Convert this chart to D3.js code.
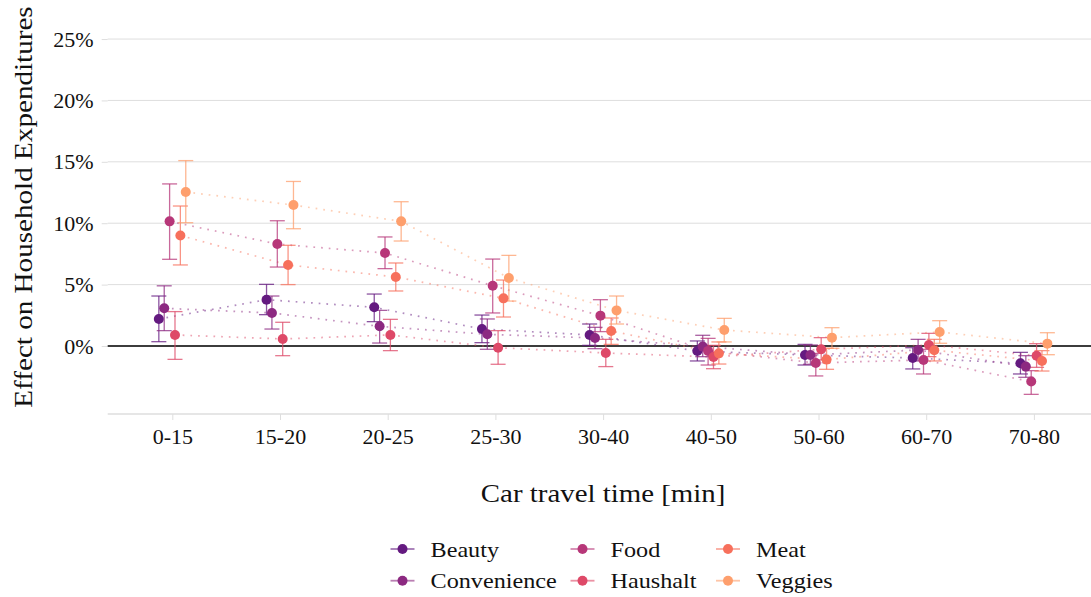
<!DOCTYPE html>
<html><head><meta charset="utf-8">
<script src="https://cdn.jsdelivr.net/npm/d3@7"></script>
<style>
html,body{margin:0;padding:0;background:#fff;}
svg{display:block;font-family:"Liberation Serif","Times New Roman",serif;}
svg text{font-family:"Liberation Serif","Times New Roman",serif;}
</style></head>
<body><svg id="chart" width="1091" height="597"></svg>
<script>
const categories = ["0-15","15-20","20-25","25-30","30-40","40-50","50-60","60-70","70-80"];
const seriesNames = ["Beauty","Convenience","Food","Haushalt","Meat","Veggies"];
const seriesColors = ["#641A80","#8C2981","#B73779","#DE4968","#F7705C","#FE9F6D"];
const yTicks = [0,5,10,15,20,25];

const beautyEst = [2.2, 3.77, 3.15, 1.38, 0.9, -0.41, -0.73, -0.98, -1.41];
const beautyLo  = [0.35, 2.55, 1.98, 0.27, 0.05, -1.22, -1.55, -1.87, -2.28];
const beautyHi  = [4.07, 5.02, 4.23, 2.52, 1.79, 0.41, 0.13, -0.14, -0.52];

const convEst = [3.07, 2.69, 1.6, 0.95, 0.65, -0.05, -0.73, -0.33, -1.68];
const convLo  = [1.25, 1.38, 0.24, -0.27, -0.22, -0.87, -1.49, -1.22, -2.55];
const convHi  = [4.9, 4.07, 2.9, 2.2, 1.52, 0.87, 0.08, 0.54, -0.79];

const foodEst = [10.15, 8.3, 7.57, 4.91, 2.47, -0.4, -1.38, -1.14, -2.9];
const foodLo  = [7.06, 6.43, 6.3, 2.69, 1.17, -1.55, -2.44, -2.28, -3.94];
const foodHi  = [13.2, 10.2, 8.88, 7.08, 3.77, 0.62, -0.6, -0.27, -2.01];

const hausEst = [0.9, 0.57, 0.9, -0.14, -0.57, -0.9, -0.27, 0.08, -0.79];
const hausLo  = [-1.09, -0.79, -0.38, -1.49, -1.68, -1.85, -1.14, -0.87, -1.74];
const hausHi  = [2.8, 1.93, 2.17, 1.25, 0.54, 0.05, 0.68, 1.03, 0.19];

const meatEst = [9.0, 6.6, 5.62, 3.88, 1.22, -0.6, -1.11, -0.35, -1.22];
const meatLo  = [6.6, 5.0, 4.48, 2.36, 0.13, -1.47, -1.9, -1.22, -2.04];
const meatHi  = [11.4, 8.2, 6.76, 5.37, 2.28, 0.33, -0.19, 0.54, -0.38];

const vegEst = [12.54, 11.48, 10.15, 5.54, 2.9, 1.3, 0.68, 1.14, 0.19];
const vegLo  = [10.04, 9.55, 8.55, 3.66, 1.79, 0.33, -0.19, 0.22, -0.71];
const vegHi  = [15.1, 13.4, 11.75, 7.38, 4.07, 2.25, 1.49, 2.06, 1.08];

const estimates = [beautyEst, convEst, foodEst, hausEst, meatEst, vegEst];
const lowers = [beautyLo, convLo, foodLo, hausLo, meatLo, vegLo];
const uppers = [beautyHi, convHi, foodHi, hausHi, meatHi, vegHi];

const series = seriesNames.map((name, i) => ({
  name, color: seriesColors[i],
  values: categories.map((c, j) => ({cat: c, est: estimates[i][j], lo: lowers[i][j], hi: uppers[i][j]}))
}));

const FONT = "Liberation Serif, Times New Roman, serif";
const svg = d3.select("#chart");
const panel = {left: 107.7, right: 1098.5, top: 0, bottom: 414};

const x = d3.scalePoint().domain(categories).range([172.3, 1033.9]);
const y = d3.scaleLinear().domain([-5.54, 28.18]).range([panel.bottom, panel.top]);
const dodgeStep = x.step() * 0.05;
const dx = i => (i - (seriesNames.length - 1) / 2) * dodgeStep;

const stretch = f => function() { const w = this.getComputedTextLength(); d3.select(this).attr("textLength", w * f).attr("lengthAdjust", "spacingAndGlyphs"); };

// grid
svg.append("g").selectAll("line").data(yTicks).join("line")
  .attr("x1", panel.left).attr("x2", 1091)
  .attr("y1", d => y(d)).attr("y2", d => y(d))
  .attr("stroke", "#dedede").attr("stroke-width", 1);

// y axis ticks and labels
const yAxis = svg.append("g").attr("transform", `translate(${panel.left},0)`)
  .call(d3.axisLeft(y).tickValues(yTicks).tickFormat(d => d + "%").tickSize(6).tickPadding(8))
  .attr("font-family", FONT);
yAxis.select(".domain").remove();
yAxis.selectAll(".tick line").attr("stroke", "#dedede");
yAxis.selectAll(".tick text").attr("font-size", 22).attr("fill", "#111");

// x axis
const xAxis = svg.append("g").attr("transform", `translate(0,${panel.bottom})`)
  .call(d3.axisBottom(x).tickSize(6).tickPadding(8))
  .attr("font-family", FONT);
xAxis.select(".domain").attr("d", `M${panel.left},0H1091`).attr("stroke", "#dedede").attr("stroke-width", 1.6);
xAxis.selectAll(".tick line").attr("stroke", "#dedede");
xAxis.selectAll(".tick text").attr("font-size", 22).attr("fill", "#111");

// zero line
svg.append("line").attr("x1", panel.left).attr("x2", 1091)
  .attr("y1", y(0)).attr("y2", y(0)).attr("stroke", "#000").attr("stroke-width", 1.4);

// dotted lines
const line = d3.line().x(d => d.x).y(d => d.y);
series.forEach((s, i) => {
  svg.append("path")
    .datum(s.values.map(v => ({x: x(v.cat) + dx(i), y: y(v.est)})))
    .attr("d", line).attr("fill", "none")
    .attr("stroke", s.color).attr("stroke-opacity", 0.5)
    .attr("stroke-width", 1.7).attr("stroke-dasharray", "1.7,6");
});

// error bars
const capHalf = 7.5;
series.forEach((s, i) => {
  const g = svg.append("g").attr("stroke", s.color).attr("stroke-opacity", 0.75).attr("stroke-width", 1.3);
  s.values.forEach(v => {
    const cx = x(v.cat) + dx(i);
    g.append("line").attr("x1", cx).attr("x2", cx).attr("y1", y(v.lo)).attr("y2", y(v.hi));
    g.append("line").attr("x1", cx - capHalf).attr("x2", cx + capHalf).attr("y1", y(v.lo)).attr("y2", y(v.lo));
    g.append("line").attr("x1", cx - capHalf).attr("x2", cx + capHalf).attr("y1", y(v.hi)).attr("y2", y(v.hi));
  });
});

// points
series.forEach((s, i) => {
  svg.append("g").selectAll("circle").data(s.values).join("circle")
    .attr("cx", v => x(v.cat) + dx(i)).attr("cy", v => y(v.est))
    .attr("r", 5).attr("fill", s.color);
});

// axis titles
svg.append("text").attr("x", (panel.left + panel.right) / 2).attr("y", 502)
  .attr("text-anchor", "middle").attr("font-size", 26).attr("fill", "#111")
  .text("Car travel time [min]").each(stretch(1.11));
svg.append("text").attr("transform", `translate(32,${(panel.top + panel.bottom) / 2}) rotate(-90)`)
  .attr("text-anchor", "middle").attr("font-size", 26).attr("fill", "#111")
  .text("Effect on Household Expenditures").each(stretch(1.12));

// legend (3 columns, 2 rows, filled by column)
const legCols = [402.5, 582.5, 728];
const legRows = [549, 580.7];
series.forEach((s, i) => {
  const col = Math.floor(i / 2), row = i % 2;
  const cx = legCols[col], cy = legRows[row];
  const g = svg.append("g");
  g.append("line").attr("x1", cx - 12).attr("x2", cx + 12).attr("y1", cy).attr("y2", cy)
    .attr("stroke", s.color).attr("stroke-opacity", 0.6).attr("stroke-width", 1.8);
  g.append("circle").attr("cx", cx).attr("cy", cy).attr("r", 5).attr("fill", s.color);
  g.append("text").attr("x", cx + 28).attr("y", cy + 7.5).attr("font-size", 22).attr("fill", "#111")
    .text(s.name).each(stretch(1.1));
});
</script></body></html>
